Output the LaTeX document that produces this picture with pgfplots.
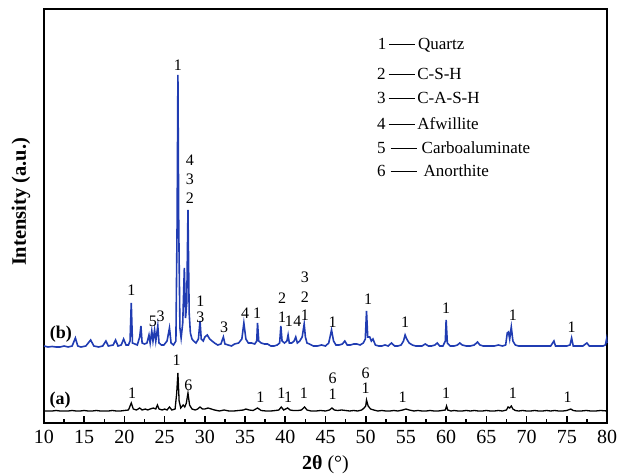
\documentclass[border=0pt]{standalone}
\usepackage{fontspec}
\setmainfont{Liberation Serif}
\usepackage{pgfplots}
\pgfplotsset{compat=1.18}
\definecolor{xrdblue}{RGB}{32,60,178}
\newcommand{\pkfont}{\fontsize{16}{18}\selectfont}
\newcommand{\lgfont}{\fontsize{17}{20}\selectfont}
\begin{document}
\begin{tikzpicture}
\useasboundingbox (-44pt,-53pt) rectangle (574pt,423pt);
\begin{axis}[
  scale only axis, width=563pt, height=414pt,
  xmin=10, xmax=80, ymin=0, ymax=414,
  xtick={10,15,...,80}, minor xtick={12.5,17.5,...,77.5},
  ytick=\empty,
  xtick pos=lower, xtick align=inside,
  major tick length=7pt, minor tick length=4pt,
  tick style={black, line width=1.6pt},
  axis line style={line width=2pt},
  /pgf/number format/assume math mode=true,
  xticklabel style={font=\fontsize{20}{24}\selectfont, yshift=-4pt},
  xlabel={\textbf{2θ} (°)},
  xlabel style={font=\fontsize{20}{24}\selectfont, at={(axis description cs:0.5,0)}, anchor=center, yshift=-42pt},
  ylabel={\textbf{Intensity (a.u.)}},
  ylabel style={font=\fontsize{20.5}{24}\selectfont, at={(axis description cs:-0.041,0.534)}, anchor=center},
  clip=false,
]
\addplot[xrdblue, line width=1.6pt] coordinates {
(10.0,77) (10.5,76) (11.0,76.5) (11.5,76) (12.0,76) (12.5,77) (13.0,76) (13.5,77)
(13.9,85) (14.2,77) (14.6,76) (15.2,77) (15.8,83) (16.2,77) (16.8,76) (17.3,77)
(17.7,82) (18.0,77) (18.6,78) (18.9,83) (19.2,77) (19.6,78) (19.9,84) (20.2,78)
(20.5,78) (20.7,82) (20.85,120) (21.0,80) (21.3,79) (21.6,78) (21.9,86) (22.05,97)
(22.2,80) (22.5,79) (22.8,80) (23.05,88) (23.2,80) (23.4,92) (23.55,82) (23.75,93)
(23.9,82) (24.15,97) (24.3,80) (24.6,78) (24.9,78) (25.3,82) (25.6,95) (25.8,80)
(26.1,78) (26.4,82) (26.55,200) (26.65,348) (26.75,200) (26.9,95) (27.05,85) (27.25,100)
(27.45,155) (27.6,105) (27.75,120) (27.9,213) (28.05,110) (28.2,90) (28.4,84) (28.6,82)
(28.9,80) (29.2,84) (29.4,102) (29.55,84) (29.8,82) (30.0,86) (30.3,88) (30.6,84)
(30.9,82) (31.2,80) (31.6,78) (32.0,79) (32.3,86) (32.5,79) (32.9,78) (33.3,77)
(33.7,79) (34.2,80) (34.6,84) (34.85,100) (35.1,84) (35.4,80) (35.8,80) (36.2,79)
(36.45,82) (36.55,100) (36.7,82) (37.0,80) (37.4,79) (37.8,79) (38.2,77) (38.6,77)
(39.0,78) (39.3,80) (39.45,97) (39.6,82) (39.9,80) (40.2,82) (40.35,88) (40.5,80)
(40.8,80) (41.1,82) (41.3,86) (41.5,80) (41.8,82) (42.1,86) (42.35,99) (42.5,86)
(42.7,80) (43.0,79) (43.5,77) (44.0,77) (44.5,78) (45.0,77) (45.4,80) (45.75,93)
(46.0,82) (46.3,78) (46.7,78) (47.1,79) (47.4,82) (47.7,78) (48.1,78) (48.5,79)
(48.9,79) (49.3,78) (49.7,80) (49.95,84) (50.1,112) (50.25,86) (50.5,86) (50.7,82)
(50.9,84) (51.2,78) (51.6,77) (52.0,77) (52.4,78) (52.8,77) (53.2,80) (53.6,77)
(54.0,77) (54.4,78) (54.7,82) (54.9,88) (55.1,84) (55.4,80) (55.8,78) (56.2,77)
(56.6,77) (57.0,77) (57.4,79) (57.8,77) (58.2,77) (58.6,78) (58.9,80) (59.2,77)
(59.6,77) (59.9,82) (60.0,103) (60.15,80) (60.5,77) (61.0,77) (61.4,78) (61.7,80)
(62.0,78) (62.5,77) (63.0,77) (63.5,78) (63.9,81) (64.2,78) (64.6,77) (65.0,77)
(65.5,77) (66.0,77) (66.5,78) (67.0,77) (67.4,78) (67.6,90) (67.75,91) (67.9,84)
(68.1,96) (68.3,82) (68.6,78) (69.0,77) (69.5,77) (70.0,77) (70.5,77) (71.0,77)
(71.5,77) (72.0,77) (72.5,77) (73.0,77) (73.4,82) (73.6,77) (74.0,77) (74.5,77)
(75.0,77) (75.4,78) (75.6,85) (75.8,77) (76.2,77) (76.6,77) (77.0,77) (77.5,80)
(77.8,77) (78.2,77) (78.6,77) (79.0,77) (79.5,77) (79.8,78) (79.95,84) (80.0,80)
};
\addplot[black, line width=1.3pt] coordinates {
(10.0,12) (10.5,12) (11,12) (11.5,12.5) (12,12) (12.5,12) (13,12) (13.5,12.5)
(14,12) (14.5,12) (15,12.5) (15.5,12) (16,12) (16.5,12.5) (17,12) (17.5,12)
(18,12) (18.5,12.5) (19,12) (19.5,12) (20,12.5) (20.5,13) (20.85,20) (21.1,14)
(21.5,13) (21.9,15) (22.2,13) (22.6,14) (22.9,13) (23.2,14) (23.6,15) (23.9,14)
(24.1,18) (24.3,14) (24.7,13) (25.0,14) (25.3,13) (25.6,16) (25.9,13) (26.3,14)
(26.5,30) (26.65,50) (26.8,22) (27.0,15) (27.3,18) (27.5,16) (27.7,20) (27.9,30)
(28.1,18) (28.4,14) (28.8,13) (29.1,14) (29.4,16) (29.7,14) (30.0,14) (30.4,15)
(30.8,14) (31.2,13) (31.8,12) (32.4,13) (33.0,12) (33.6,12) (34.2,12.5) (34.8,13)
(35.1,14) (35.5,13) (36.0,12.5) (36.55,15) (37.0,12.5) (37.6,12) (38.2,12) (38.8,12.5)
(39.2,13) (39.5,16) (39.8,13) (40.3,15) (40.6,13) (41.0,12.5) (41.6,12.5) (42.0,13)
(42.4,16) (42.7,13) (43.2,12) (43.8,12) (44.4,12.5) (45.0,12) (45.5,13) (45.8,15)
(46.1,13) (46.5,12.5) (47.0,13) (47.5,12.5) (48.0,12) (48.5,12.5) (49.0,12) (49.5,13)
(49.8,15) (50.0,17) (50.1,23) (50.3,17) (50.6,14) (51.0,13) (51.5,12) (52.0,12.5)
(52.5,12) (53.0,12) (53.5,12.5) (54.0,12) (54.6,13) (55.0,14) (55.4,13) (56.0,12)
(56.5,12.5) (57.0,12) (57.5,12) (58.0,12.5) (58.5,12) (59.0,12) (59.5,12.5) (59.9,13)
(60.05,17) (60.2,13) (60.6,12) (61.0,12.5) (61.5,12) (62.0,12) (62.5,12.5) (63.0,12)
(63.5,12.5) (64.0,12) (64.5,12) (65.0,12.5) (65.5,12) (66.0,12) (66.5,12.5) (67.0,12)
(67.5,13) (67.7,16) (67.9,15) (68.1,17) (68.3,14) (68.6,12.5) (69.0,12) (69.5,12.5)
(70.0,12) (70.5,12) (71.0,12.5) (71.5,12) (72.0,12) (72.5,12.5) (73.0,12) (73.5,12.5)
(74.0,12) (74.5,12) (75.0,12.5) (75.5,14) (75.8,12.5) (76.2,12) (76.8,12) (77.4,12.5)
(78.0,12) (78.6,12) (79.2,12.5) (80.0,12)
};
% sample labels
\node[font=\fontsize{18}{20}\selectfont\bfseries] at (axis cs:12.1,89) {(b)};
\node[font=\fontsize{18}{20}\selectfont\bfseries] at (axis cs:12.0,23) {(a)};
% blue peak labels
\begin{scope}[every node/.style={font=\pkfont, inner sep=0pt}]
\node at (axis cs:26.66,358) {1};
\node at (axis cs:28.15,263) {4};
\node at (axis cs:28.15,244) {3};
\node at (axis cs:28.15,225) {2};
\node at (axis cs:20.85,133) {1};
\node at (axis cs:23.55,102) {5};
\node at (axis cs:24.5,107) {3};
\node at (axis cs:29.45,122) {1};
\node at (axis cs:29.45,106) {3};
\node at (axis cs:32.4,96) {3};
\node at (axis cs:35.0,110) {4};
\node at (axis cs:36.5,110) {1};
\node at (axis cs:39.6,125) {2};
\node at (axis cs:39.6,106) {1};
\node at (axis cs:40.45,102) {1};
\node at (axis cs:41.5,102) {4};
\node at (axis cs:42.45,146) {3};
\node at (axis cs:42.45,126) {2};
\node at (axis cs:42.45,108) {1};
\node at (axis cs:45.9,101) {1};
\node at (axis cs:50.3,124) {1};
\node at (axis cs:54.9,101) {1};
\node at (axis cs:60.0,115) {1};
\node at (axis cs:68.3,108) {1};
\node at (axis cs:75.6,96) {1};
% black peak labels
\node at (axis cs:26.5,63) {1};
\node at (axis cs:27.95,38) {6};
\node at (axis cs:20.95,30) {1};
\node at (axis cs:36.9,26) {1};
\node at (axis cs:39.5,30) {1};
\node at (axis cs:40.35,26) {1};
\node at (axis cs:42.3,30) {1};
\node at (axis cs:45.9,45) {6};
\node at (axis cs:45.9,29) {1};
\node at (axis cs:50.0,50) {6};
\node at (axis cs:50.0,35) {1};
\node at (axis cs:54.6,26) {1};
\node at (axis cs:60.0,30) {1};
\node at (axis cs:68.3,30) {1};
\node at (axis cs:75.1,26) {1};
\end{scope}
% phase key
\begin{scope}[every node/.style={font=\lgfont, anchor=west, inner sep=0pt}]
\node at (axis cs:51.5,378) {1\,\rule[0.28em]{26pt}{0.9pt}\,Quartz};
\node at (axis cs:51.4,349) {2\,\rule[0.28em]{26pt}{0.9pt}\,C-S-H};
\node at (axis cs:51.4,325) {3\,\rule[0.28em]{26pt}{0.9pt}\,C-A-S-H};
\node at (axis cs:51.4,299) {4\,\rule[0.28em]{26pt}{0.9pt}\,Afwillite};
\node at (axis cs:51.4,275) {5\hspace{5pt}\rule[0.28em]{26pt}{0.9pt}\hspace{5pt}Carboaluminate};
\node at (axis cs:51.4,252) {6\hspace{5pt}\rule[0.28em]{26pt}{0.9pt}\hspace{7pt}Anorthite};
\end{scope}
\end{axis}
% tick marks on the bottom axis (inside)
\foreach \i in {1,...,13} \draw[black, line width=1.6pt] ({\i*40.2143pt},0pt) -- ++(0,7pt);
\foreach \i in {0,...,13} \draw[black, line width=1.6pt] ({(\i+0.5)*40.2143pt},0pt) -- ++(0,4pt);
\end{tikzpicture}
\end{document}
